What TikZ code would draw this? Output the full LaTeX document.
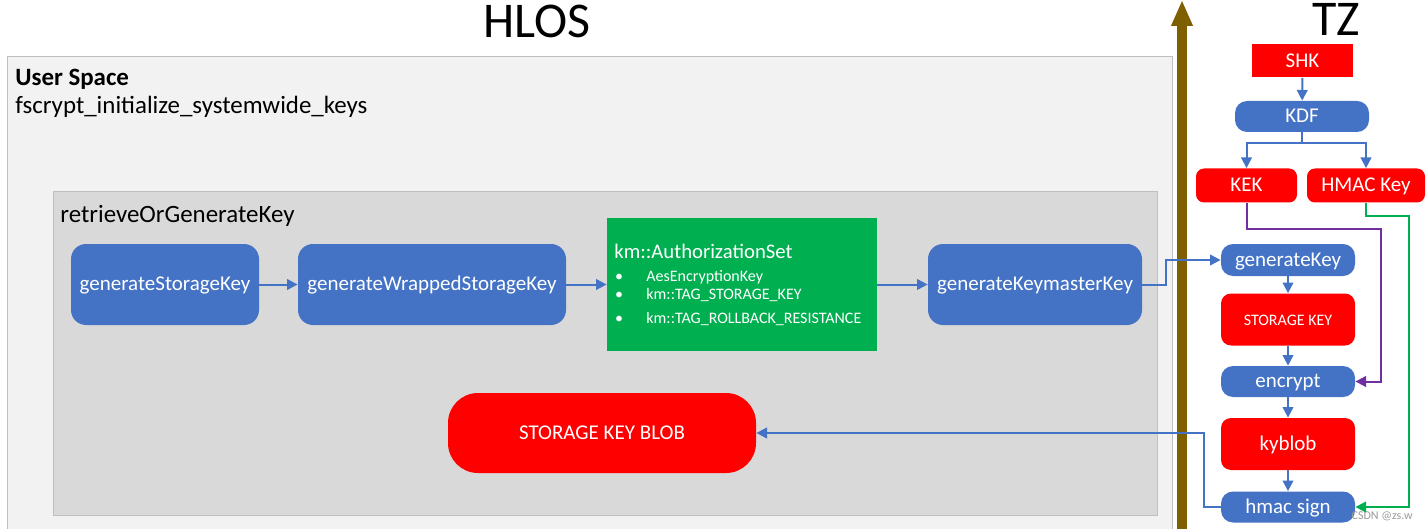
\documentclass[tikz,border=0pt]{standalone}
\usepackage{fontspec}
\setmainfont{Carlito}
\usetikzlibrary{arrows.meta}
\definecolor{boxblue}{HTML}{4472C4}
\definecolor{boxred}{HTML}{FF0000}
\definecolor{boxgreen}{HTML}{00B050}
\definecolor{axisbrown}{HTML}{7F6000}
\definecolor{linepurple}{HTML}{7030A0}
\definecolor{usgray}{HTML}{F2F2F2}
\definecolor{fngray}{HTML}{D9D9D9}
\definecolor{edgegray}{HTML}{BFBFBF}
\newcommand{\fsz}[1]{\fontsize{#1pt}{#1pt}\selectfont}
\begin{document}
\begin{tikzpicture}[x=0.5pt,y=-0.5pt]
		\tikzset{
			wh/.style 2 args={minimum width={#1*0.5pt}, minimum height={#2*0.5pt}},
			bluebox/.style={fill=boxblue, text=white, rounded corners=#1, inner sep=0pt,
				text height=0.64em, text depth=0pt, font=\fsz{10.5}},
			redbox/.style={bluebox=#1, fill=boxred},
			lbl/.style={anchor=base west, inner sep=0pt, font=\fsz{12.45}},
			bl/.style={draw=boxblue, line width=1pt, -{Triangle[width=5.3pt,length=5.3pt]}},
		}
		\useasboundingbox (0,0) rectangle (1427,529);
		\clip (0,0) rectangle (1427,529);
		% containers
		\draw[fill=usgray, draw=edgegray] (7,56) rectangle (1172,545);
		\draw[fill=fngray, draw=edgegray] (53,191) rectangle (1157,515);
		\node[font=\fsz{25}, anchor=base, inner sep=0pt] (hlos) at (537,38) {HLOS};
		\node[font=\fsz{25}, anchor=base, inner sep=0pt] (tz) at (1336,36) {TZ};
		\node[lbl, font=\bfseries\fsz{12.45}] (us) at (15,86) {User Space};
		\node[lbl] (fs) at (15,114) {fscrypt\_initialize\_systemwide\_keys};
		\node[lbl] (rg) at (60,222) {retrieveOrGenerateKey};
		% HLOS side
		\node[bluebox=7.5pt, wh={188}{81}] (gsk) at (165,284.5) {generateStorageKey};
		\node[bluebox=7.5pt, wh={268}{81}] (gwsk) at (432,284.5) {generateWrappedStorageKey};
		\node[fill=boxgreen, wh={270}{133}, inner sep=0pt] (auth) at (742,284.5) {};
		\node[bluebox=7.5pt, wh={214}{81}] (gkk) at (1035,284.5) {generateKeymasterKey};
		\node[redbox=15pt, wh={308}{80}] (blob) at (602,433) {STORAGE KEY BLOB};
		\node[lbl, text=white, font=\fsz{10.35}] (authtitle) at (614,258) {km::AuthorizationSet};
		\foreach \t/\y in {AesEncryptionKey/281,km::TAG\_STORAGE\_KEY/299,km::TAG\_ROLLBACK\_RESISTANCE/323}{
			\node[anchor=base, inner sep=0pt, text=white, font=\fsz{8}] (dot\y) at (619,\y) {•};
			\node[lbl, text=white, font=\fsz{8}] (item\y) at (646,\y) {\t};
		}
		% TZ side
		\draw[draw=axisbrown, line width=5pt, -{Triangle[width=10pt,length=13pt]}] (1182,540) -- (1182,0);
		\node[redbox=0pt, wh={101}{33}] (shk) at (1302.5,61) {SHK};
		\node[bluebox=6pt, wh={134}{31}] (kdf) at (1302,116.5) {KDF};
		\node[redbox=4pt, wh={101}{34}] (kek) at (1246.5,185.5) {KEK};
		\node[redbox=4pt, wh={118}{34}] (hmk) at (1366,185.5) {HMAC Key};
		\node[bluebox=6pt, wh={134}{32}] (genk) at (1288,260) {generateKey};
		\node[redbox=5pt, wh={134}{52}, font=\fsz{8}] (stk) at (1288,319.5) {STORAGE KEY};
		\node[bluebox=6pt, wh={134}{31}] (enc) at (1288,381.5) {encrypt};
		\node[redbox=5pt, wh={134}{52}] (kyb) at (1288,444) {kyblob};
		\node[bluebox=6pt, wh={134}{31}] (hms) at (1288,507) {hmac sign};
		\node[anchor=base east, inner sep=0pt, text=black!40, font=\fsz{6}] (wm) at (1413,519) {CSDN @zs.w};
		% connectors
		\draw[bl] (gsk) -- (gwsk);
		\draw[bl] (gwsk) -- (auth);
		\draw[bl] (auth) -- (gkk);
		\draw[bl] (gkk.east) -- ++(24,0) |- (genk.west);
		\draw[bl] (shk) -- (kdf);
		\draw[bl] (kdf.south) -- ++(0,11) -| (kek.north);
		\draw[bl] (kdf.south) -- ++(0,11) -| (hmk.north);
		\draw[bl] (genk) -- (stk);
		\draw[bl] (stk) -- (enc);
		\draw[bl] (enc) -- (kyb);
		\draw[bl] (kyb) -- (hms);
		\draw[bl] (hms.west) -| (1204,433) -- (blob.east);
		\draw[bl, draw=linepurple] (kek.south) |- (1381,229) |- (enc.east);
		\draw[bl, draw=boxgreen] (hmk.south) |- (1409,216) |- (hms.east);
	\end{tikzpicture}
\end{document}
